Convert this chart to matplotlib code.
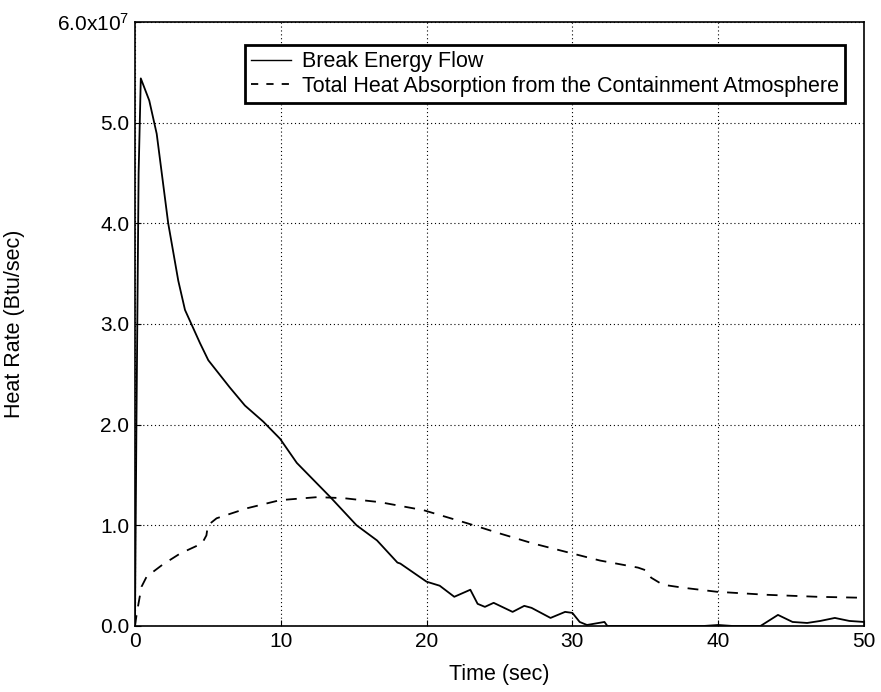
import matplotlib
matplotlib.use("Agg")
import matplotlib.pyplot as plt

plt.rcParams['font.family'] = ['Liberation Sans', 'DejaVu Sans']
plt.rcParams['mathtext.fontset'] = 'custom'
plt.rcParams['mathtext.rm'] = 'Liberation Sans'
plt.rcParams['mathtext.default'] = 'regular'

# --- data (heat rate in units of 1e7 Btu/sec) ---
break_t = [0.0, 0.1, 0.25, 0.4, 0.98, 1.49, 2.28, 2.97, 3.43, 4.46, 5.03, 6.5, 7.54,
           8.8, 9.95, 11.1, 13.4, 15.2, 16.6, 18.0, 18.2, 20.0, 20.9, 21.9, 23.0,
           23.5, 24.0, 24.6, 25.9, 26.7, 27.2, 28.5, 29.5, 30.0, 30.5, 31.0, 31.8,
           32.2, 32.4, 39.0, 40.0, 41.0, 42.9, 44.1, 45.1, 46.1, 47.0, 48.0, 49.0, 50.0]
break_q = [0.0, 2.0, 4.5, 5.44, 5.22, 4.89, 4.0, 3.43, 3.14, 2.81, 2.64, 2.37, 2.19,
           2.03, 1.86, 1.62, 1.28, 1.0, 0.85, 0.63, 0.62, 0.44, 0.40, 0.29, 0.36,
           0.22, 0.19, 0.23, 0.14, 0.20, 0.18, 0.08, 0.14, 0.13, 0.04, 0.01, 0.03,
           0.04, 0.0, 0.0, 0.01, 0.0, 0.0, 0.11, 0.04, 0.03, 0.05, 0.08, 0.05, 0.04]

absorb_t = [0.0, 0.14, 0.45, 0.8, 1.9, 3.1, 4.6, 4.9, 5.0, 5.6, 7.7, 9.95, 12.5,
            14.3, 16.8, 19.8, 22.8, 25.0, 27.3, 30.0, 31.9, 34.5, 35.1, 35.4, 36.2,
            37.6, 39.9, 43.3, 46.8, 50.0]
absorb_q = [0.0, 0.14, 0.39, 0.49, 0.61, 0.72, 0.82, 0.90, 1.0, 1.07, 1.17, 1.25, 1.28,
            1.27, 1.23, 1.15, 1.02, 0.92, 0.82, 0.72, 0.65, 0.58, 0.55, 0.48, 0.41,
            0.38, 0.34, 0.31, 0.29, 0.28]

x_ticks = [0, 10, 20, 30, 40, 50]
y_ticks = [0, 1, 2, 3, 4, 5, 6]
y_labels = ['0.0', '1.0', '2.0', '3.0', '4.0', '5.0', '6.0x10$^7$']

fig = plt.figure(figsize=(8.81, 6.92), dpi=100)
ax = fig.add_axes([0.1532, 0.0954, 0.8275, 0.8728])

ax.plot(break_t, break_q, color='black', linewidth=1.3, label='Break Energy Flow')
ax.plot(absorb_t, absorb_q, color='black', linewidth=1.3, linestyle=(0, (6, 5)),
        label='Total Heat Absorption from the Containment Atmosphere')

ax.set_xlim(0, 50)
ax.set_ylim(0, 6)
ax.set_xticks(x_ticks)
ax.set_yticks(y_ticks)
ax.set_yticklabels(y_labels)
ax.tick_params(direction='in', length=4, labelsize=15, colors='black', pad=4)
ax.grid(True, color='black', linestyle=(0, (1, 2.5)), linewidth=0.8)

ax.set_xlabel('Time (sec)', fontsize=15.5, labelpad=10)
ax.set_ylabel('Heat Rate (Btu/sec)', fontsize=15.5)
ax.yaxis.set_label_coords(-0.151, 0.5)

for sp in ax.spines.values():
    sp.set_linewidth(1.2)

leg = ax.legend(loc='upper right', bbox_to_anchor=(0.974, 0.962), fontsize=15.5,
                frameon=True, fancybox=False, edgecolor='black', framealpha=1,
                handlelength=1.85, borderpad=0.3, labelspacing=0.15, handletextpad=0.5,
                borderaxespad=0)
leg.get_frame().set_linewidth(2)
# the legend sample uses shorter dashes (three per handle)
leg.get_lines()[1].set_linestyle((0, (4, 4.5)))
leg.get_lines()[0].set_linewidth(1.0)

fig.savefig('out.png', dpi=100)
